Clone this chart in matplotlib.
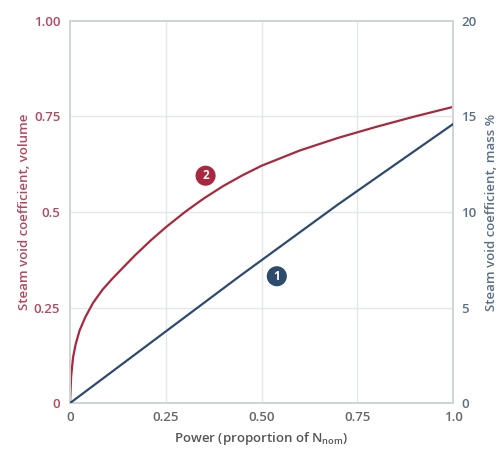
import matplotlib
matplotlib.use('Agg')
from matplotlib import pyplot as plt

plt.rcParams['font.family'] = ['Open Sans', 'DejaVu Sans']

red = '#a8293d'
blue = '#2e4a6c'
grid = '#e4e7ea'

# volume void coefficient (left axis)
power_vol = [0, 0.003, 0.008, 0.015, 0.025, 0.04, 0.06, 0.085, 0.11, 0.134,
             0.17, 0.21, 0.25, 0.3, 0.35, 0.4, 0.45, 0.5, 0.6, 0.7, 0.8, 0.9, 1.0]
void_vol = [0, 0.07, 0.12, 0.155, 0.19, 0.225, 0.262, 0.297, 0.325, 0.35,
            0.387, 0.425, 0.46, 0.50, 0.536, 0.568, 0.596, 0.621, 0.661,
            0.694, 0.723, 0.75, 0.775]

# mass void coefficient, % (right axis)
power_mass = [0, 0.44, 0.7, 1.0]
void_mass = [0, 6.6, 10.4, 14.6]

xticks = [0, 0.25, 0.5, 0.75, 1.0]
xlabels = ['0', '0.25', '0.50', '0.75', '1.0']
lticks = [0, 0.25, 0.5, 0.75, 1.0]
llabels = ['0', '0.25', '0.5', '0.75', '1.00']
rticks = [0, 5, 10, 15, 20]

fig = plt.figure(figsize=(5.0, 4.55), dpi=100)
ax = fig.add_axes([0.14, 0.114, 0.766, 0.84])
ax2 = ax.twinx()

ax.set_xlim(0, 1)
ax.set_ylim(0, 1)
ax2.set_ylim(0, 20)

for v in [0.25, 0.5, 0.75]:
    ax.axvline(v, color=grid, lw=1, zorder=0)
    ax.axhline(v, color=grid, lw=1, zorder=0)

ax.plot(power_vol, void_vol, color=red, lw=1.6, zorder=3, solid_joinstyle='round')
ax2.plot(power_mass, void_mass, color=blue, lw=1.6, zorder=3)

for a in (ax, ax2):
    for s in a.spines.values():
        s.set_color('#cfd4d9')
        s.set_linewidth(1.4)
    a.tick_params(length=0)

ax.set_xticks(xticks)
ax.set_xticklabels(xlabels, color='#666666', fontsize=9.5, fontweight='semibold')
ax.set_yticks(lticks)
ax.set_yticklabels(llabels, color='#b04a5e', fontsize=9.5, fontweight='semibold')
ax2.set_yticks(rticks)
ax2.set_yticklabels([str(t) for t in rticks], color='#5b6f86', fontsize=9.5, fontweight='semibold')
ax.tick_params(axis='x', pad=6)
ax.tick_params(axis='y', pad=7)
ax2.tick_params(axis='y', pad=6)

ax.set_xlabel(r'Power (proportion of N$_\mathregular{nom}$)', color='#555555',
              fontsize=9.5, fontweight='semibold', labelpad=4)
ax.set_ylabel('Steam void coefficient, volume', color='#b04a5e',
              fontsize=9.5, fontweight='semibold', labelpad=2)
ax2.set_ylabel('Steam void coefficient, mass %', color='#5b6f86',
               fontsize=9.5, fontweight='semibold', labelpad=6)

ax.text(0.354, 0.595, '2', color='white', fontsize=8.5, fontweight='bold',
        ha='center', va='center', zorder=5,
        bbox=dict(boxstyle='circle,pad=0.3', fc=red, ec='none'))
ax.text(0.54, 0.332, '1', color='white', fontsize=8.5, fontweight='bold',
        ha='center', va='center', zorder=5,
        bbox=dict(boxstyle='circle,pad=0.3', fc=blue, ec='none'))

fig.savefig('out.png', dpi=100)
